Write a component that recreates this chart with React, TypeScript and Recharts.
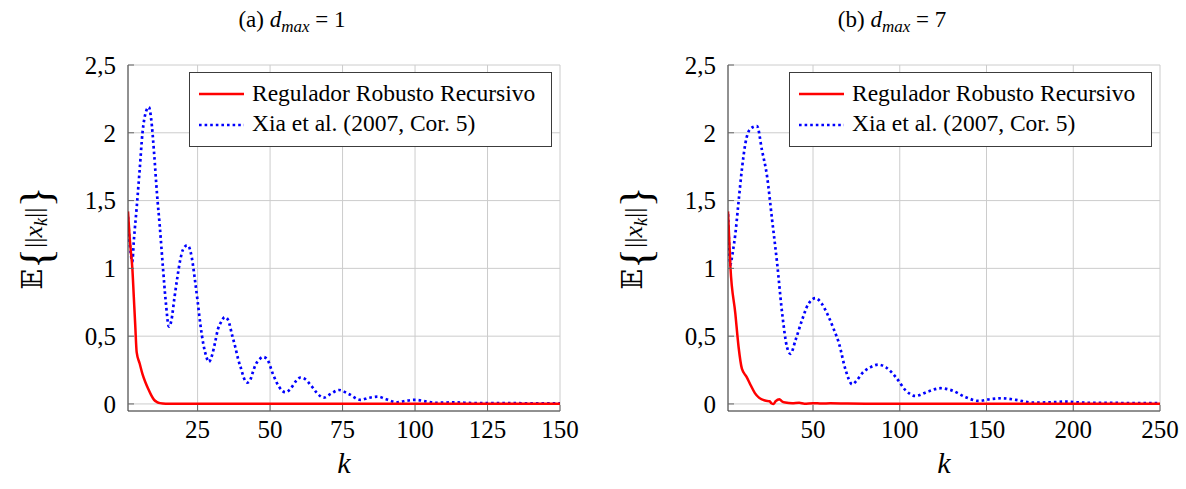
import React from "react";
import { LineChart, Line, XAxis, YAxis, CartesianGrid, Legend } from "recharts";

const FONT = "'Liberation Serif', 'DejaVu Serif', serif";

// panel (a): d_max = 1
const kRegA = [1, 1.5, 2, 2.5, 3, 3.5, 4, 5, 6, 7, 8, 9, 10, 11, 12, 14, 20, 150];
const regA = [1.42, 1.25, 1.12, 1.0, 0.79, 0.58, 0.38, 0.3, 0.22, 0.16, 0.11, 0.065, 0.03, 0.014, 0.006, 0.002, 0.001, 0.001];

const kXiaA = [
  1, 2, 2.5, 3, 4, 5, 6, 7, 8.2, 9, 10, 11, 12, 13, 14, 15.1, 16, 17, 18, 19, 20, 21.4, 22, 23, 24, 25,
  26, 27, 28, 28.9, 30, 31, 32, 33, 34.4, 35.5, 37, 38, 39, 40, 41, 42.1, 43, 44, 45, 46, 47.6, 49, 51,
  53, 55.3, 57, 59, 60.5, 62, 64, 66, 68.5, 71, 73.7, 77, 81.2, 84, 87.1, 90, 93.8, 97, 100.1, 104, 107,
  110, 113, 117, 122, 130, 140, 150,
];
const xiaA = [
  1.38, 1.1, 1.05, 1.2, 1.45, 1.72, 2.0, 2.14, 2.19, 2.1, 1.85, 1.55, 1.3, 1.02, 0.76, 0.57, 0.62, 0.78,
  0.93, 1.06, 1.14, 1.17, 1.16, 1.08, 0.93, 0.76, 0.58, 0.44, 0.35, 0.31, 0.36, 0.45, 0.55, 0.6, 0.64,
  0.62, 0.5, 0.42, 0.33, 0.26, 0.19, 0.157, 0.17, 0.23, 0.29, 0.32, 0.347, 0.33, 0.22, 0.13, 0.086, 0.11,
  0.17, 0.195, 0.185, 0.14, 0.085, 0.046, 0.075, 0.103, 0.075, 0.03, 0.045, 0.054, 0.035, 0.012, 0.024,
  0.03, 0.018, 0.008, 0.01, 0.012, 0.009, 0.006, 0.006, 0.005, 0.005,
];

// panel (b): d_max = 7
const kRegB = [1, 2.4, 5.2, 7.1, 9, 11.7, 14, 16.5, 19, 22.3, 25, 26, 27.3, 28.5, 30.7, 32, 34, 38, 42, 45, 50, 55, 60, 70, 80, 100, 150, 250];
const regB = [1.42, 1.01, 0.67, 0.42, 0.26, 0.2, 0.14, 0.08, 0.045, 0.025, 0.02, 0.005, 0.0, 0.02, 0.035, 0.02, 0.01, 0.005, 0.008, 0.002, 0.006, 0.003, 0.005, 0.003, 0.002, 0.002, 0.001, 0.001];

const kXiaB = [
  1, 2, 2.4, 3, 4, 5.2, 7, 9, 11, 14, 17.7, 20.6, 23.5, 26.4, 29.3, 32.2, 35, 37, 39.9, 43.7, 47, 51.4,
  55, 59.1, 62, 64.9, 68.8, 72.6, 75, 78.3, 83, 87.6, 92, 97.6, 103.4, 109, 116, 123.6, 130, 138, 145.6,
  152, 159, 167, 176.5, 186, 195.8, 205, 215, 230, 250,
];
const xiaB = [
  1.4, 1.08, 1.025, 1.06, 1.14, 1.25, 1.48, 1.73, 1.92, 2.03, 2.05, 1.87, 1.68, 1.36, 1.04, 0.67, 0.42,
  0.37, 0.47, 0.62, 0.73, 0.78, 0.74, 0.64, 0.55, 0.45, 0.25, 0.145, 0.17, 0.226, 0.27, 0.29, 0.27, 0.2,
  0.1, 0.059, 0.09, 0.116, 0.1, 0.05, 0.022, 0.035, 0.042, 0.03, 0.01, 0.012, 0.017, 0.01, 0.008, 0.007,
  0.006,
];

const xTicksA = [25, 50, 75, 100, 125, 150];
const xTicksB = [50, 100, 150, 200, 250];
const yTicks = [0, 0.5, 1, 1.5, 2, 2.5];

const seriesNames = ["Regulador Robusto Recursivo", "Xia et al. (2007, Cor. 5)"];

const toPts = (ks: number[], vs: number[]) => ks.map((k, i) => ({ k, v: vs[i] }));

const fmtY = (v: number) => String(v).replace(".", ",");

const FRAME = "#3c3c3c";
const TICKC = "#666";

const XLabel = (props: any) => {
  const vb = props.viewBox || { x: 128, y: 411, width: 432, height: 78 };
  return (
    <text x={vb.x + vb.width / 2} y={vb.y + 62} textAnchor="middle" style={{ fontFamily: FONT }} fontStyle="italic" fontSize={30} fill="#000">
      k
    </text>
  );
};

const YLabel = (props: any) => {
  const vb = props.viewBox || { x: 0, y: 65, width: 128, height: 346 };
  const cx = vb.x + 42;
  const cy = vb.y + vb.height / 2;
  return (
    <g transform={`rotate(-90, ${cx}, ${cy})`}>
      <text x={cx} y={cy} textAnchor="middle" style={{ fontFamily: FONT }} fill="#000" fontSize={26}>
        <tspan style={{ fontFamily: "'DejaVu Serif', serif" }} fontSize={27}>𝔼</tspan>
        <tspan fontSize={44} dy={9}>{"{"}</tspan>
        <tspan fontSize={26} dy={-9}>{"||"}</tspan>
        <tspan fontStyle="italic">x</tspan>
        <tspan fontStyle="italic" fontSize={18} dy={5}>k</tspan>
        <tspan dy={-5}>{"||"}</tspan>
        <tspan fontSize={44} dy={9}>{"}"}</tspan>
      </text>
    </g>
  );
};

const LegendBox = () => (
  <svg width={363} height={75} style={{ display: "block" }}>
    <rect x={0.5} y={0.5} width={362} height={74} fill="#fff" stroke={FRAME} strokeWidth={1} />
    <line x1={10} x2={55} y1={22} y2={22} stroke="#ff0000" strokeWidth={2.5} />
    <line x1={10} x2={55} y1={53} y2={53} stroke="#0000ff" strokeWidth={2.7} strokeDasharray="2.6 3" />
    <text x={63} y={28.5} style={{ fontFamily: FONT }} fontSize={23.5} fill="#000">{seriesNames[0]}</text>
    <text x={63} y={59} style={{ fontFamily: FONT }} fontSize={23.5} fill="#000">{seriesNames[1]}</text>
  </svg>
);

interface PanelProps {
  left: number;
  tag: string;
  dval: string;
  reg: { k: number; v: number }[];
  xia: { k: number; v: number }[];
  xMax: number;
  xTicks: number[];
}

const tickStyle = { fill: "#000", fontSize: 25, fontFamily: FONT, style: { fontFamily: FONT } };

const Panel: React.FC<PanelProps> = ({ left, tag, dval, reg, xia, xMax, xTicks }) => {
  const xDomain = [1, xMax];
  const yDomain = [-0.052, 2.5];
  return (
    <div style={{ position: "absolute", left, top: 0, width: 584, height: 489, fontFamily: FONT }}>
      <div style={{ position: "absolute", left: 0, top: 0 }}>
        <LineChart width={580} height={489} margin={{ top: 65, right: 20, bottom: 0, left: 0 }} style={{ fontFamily: FONT }}>
          <CartesianGrid stroke="#cccccc" strokeWidth={1} />
          <XAxis
            dataKey="k"
            type="number"
            domain={xDomain}
            ticks={xTicks}
            interval={0}
            allowDataOverflow
            height={78}
            tickSize={-6}
            tickMargin={15}
            tickLine={{ stroke: TICKC }}
            axisLine={{ stroke: FRAME }}
            tick={tickStyle}
            label={<XLabel />}
          />
          <XAxis
            xAxisId="top"
            orientation="top"
            type="number"
            domain={xDomain}
            ticks={xTicks}
            interval={0}
            allowDataOverflow
            height={0}
            tickSize={-6}
            tickLine={{ stroke: TICKC }}
            axisLine={{ stroke: FRAME }}
            tick={false}
          />
          <YAxis
            type="number"
            domain={yDomain}
            ticks={yTicks}
            interval={0}
            allowDataOverflow
            width={128}
            tickSize={-6}
            tickMargin={18}
            tickLine={{ stroke: TICKC }}
            axisLine={{ stroke: FRAME }}
            tick={tickStyle}
            tickFormatter={fmtY}
            label={<YLabel />}
          />
          <YAxis
            yAxisId="right"
            orientation="right"
            type="number"
            domain={yDomain}
            ticks={yTicks}
            interval={0}
            allowDataOverflow
            width={0}
            tickSize={-6}
            tickLine={{ stroke: TICKC }}
            axisLine={{ stroke: FRAME }}
            tick={false}
          />
          <Legend
            layout="vertical"
            align="center"
            verticalAlign="middle"
            wrapperStyle={{ top: 72, left: 189, width: 363, height: 75 }}
            content={() => <LegendBox />}
          />
          <Line
            data={xia}
            dataKey="v"
            name={seriesNames[1]}
            type="monotone"
            stroke="#0000ff"
            strokeWidth={2.7}
            strokeDasharray="2.6 3"
            dot={false}
            isAnimationActive={false}
          />
          <Line
            data={reg}
            dataKey="v"
            name={seriesNames[0]}
            type="monotone"
            stroke="#ff0000"
            strokeWidth={2.5}
            dot={false}
            isAnimationActive={false}
          />
        </LineChart>
      </div>
      <svg width={584} height={45} style={{ position: "absolute", left: 0, top: 0, pointerEvents: "none" }}>
        <text x={292} y={27} textAnchor="middle" style={{ fontFamily: FONT }} fontSize={23} fill="#000">
          <tspan>{tag} </tspan>
          <tspan fontStyle="italic">d</tspan>
          <tspan fontStyle="italic" fontSize={17} dy={5}>max</tspan>
          <tspan dy={-5}>{" = " + dval}</tspan>
        </text>
      </svg>
    </div>
  );
};

export default function App() {
  return (
    <div style={{ position: "absolute", left: 0, top: 0, width: 1186, height: 489, background: "#fff" }}>
      <Panel left={0} tag="(a)" dval="1" reg={toPts(kRegA, regA)} xia={toPts(kXiaA, xiaA)} xMax={150} xTicks={xTicksA} />
      <Panel left={600} tag="(b)" dval="7" reg={toPts(kRegB, regB)} xia={toPts(kXiaB, xiaB)} xMax={250} xTicks={xTicksB} />
    </div>
  );
}
